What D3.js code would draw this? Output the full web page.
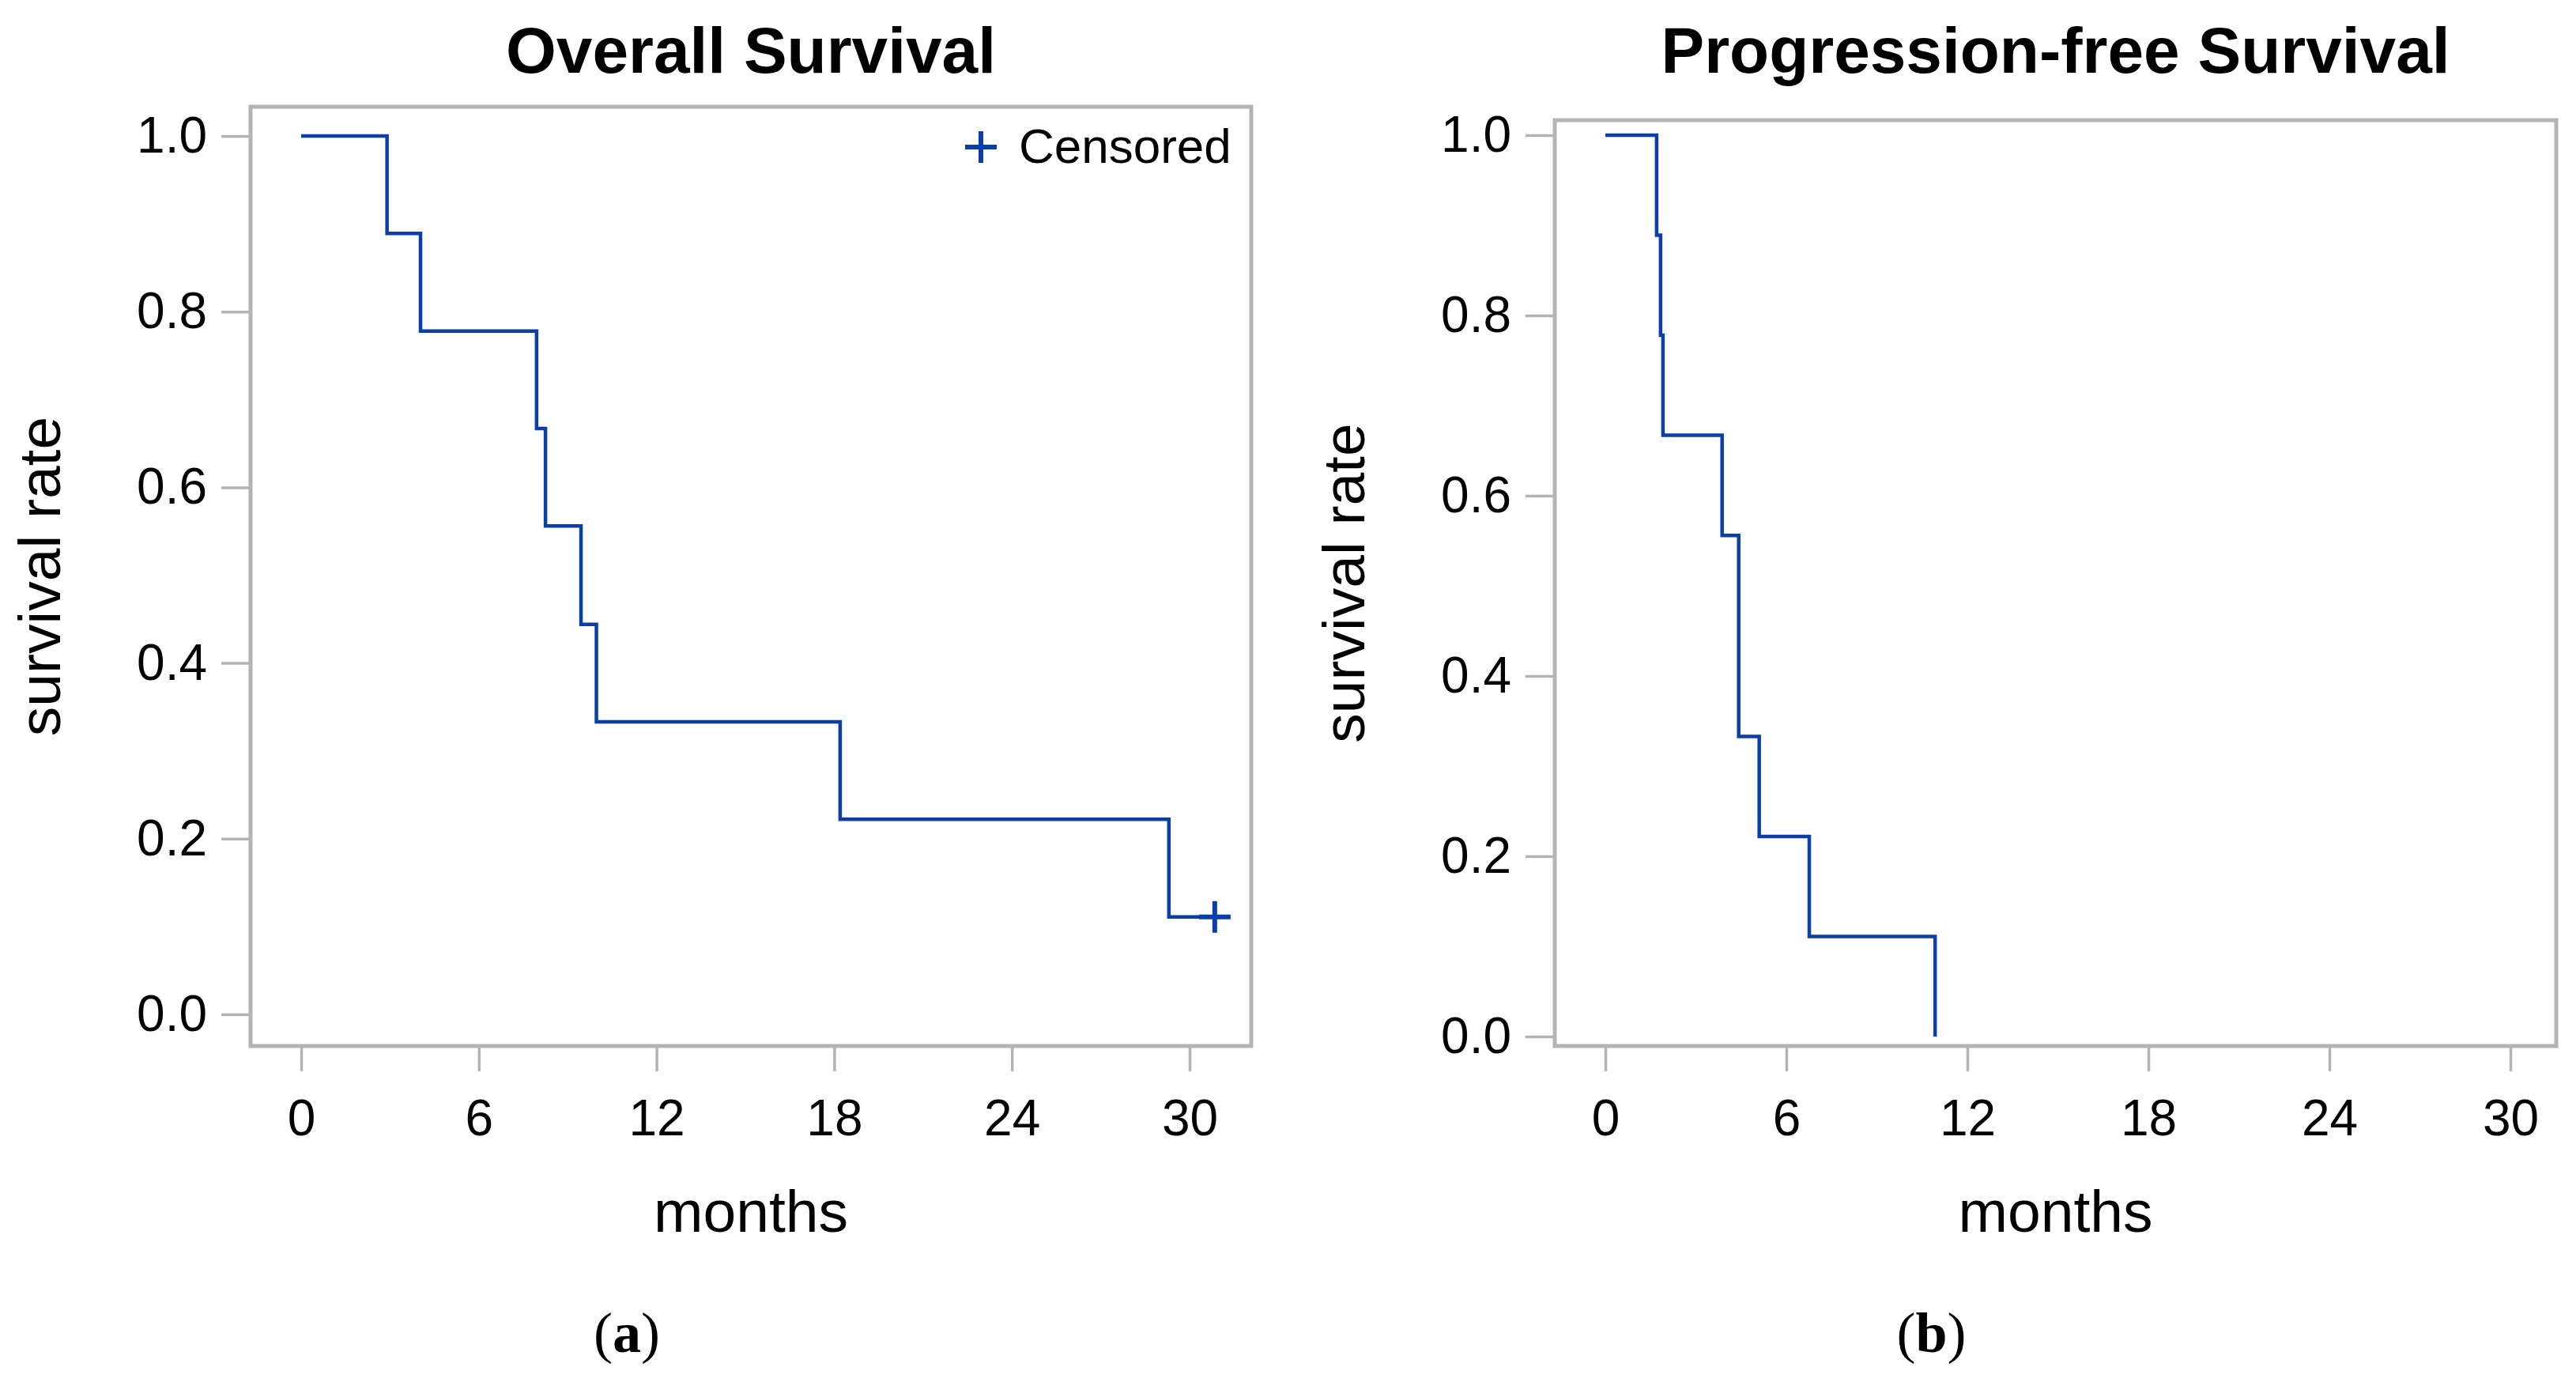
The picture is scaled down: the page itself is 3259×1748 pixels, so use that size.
<!DOCTYPE html>
<html lang="en">
<head>
<meta charset="utf-8">
<title>Overall and progression-free survival</title>
<script src="https://cdn.jsdelivr.net/npm/d3@7"></script>
<style>
  body { margin: 0; background: #fff; }
  svg { display: block; }
  .tick text { font-family: "Liberation Sans", Arial, sans-serif; font-size: 64px; fill: #000; }
  .tick line { stroke: #b4b4b4; stroke-width: 3.5px; }
  .title { font-family: "Liberation Sans", Arial, sans-serif; font-size: 82px; font-weight: bold; }
  .axlabel { font-family: "Liberation Sans", Arial, sans-serif; font-size: 75px; }
  .panel-tag { font-family: "Liberation Serif", "Times New Roman", serif; font-size: 72px; }
</style>
</head>
<body>
<svg id="chart" width="3259" height="1748"></svg>
<script>
// data (months, survival rate)
var xTicks = [0, 6, 12, 18, 24, 30];
var yTicks = [0, 0.2, 0.4, 0.6, 0.8, 1.0];

var osTimes = [2.9, 4.03, 7.95, 8.25, 9.45, 9.97, 18.2, 29.3];
var osSurv  = [0.889, 0.778, 0.667, 0.556, 0.444, 0.333, 0.222, 0.111];
var osCensorTimes = [30.85];
var osCensorSurv  = [0.111];

var pfsTimes = [1.7, 1.83, 1.91, 3.87, 4.42, 5.1, 6.76, 10.93];
var pfsSurv  = [0.889, 0.778, 0.667, 0.556, 0.333, 0.222, 0.111, 0.0];

var blue = "#0b3ea6";
var grey = "#b4b4b4";

var svg = d3.select("#chart");

var panels = [
  { title: "Overall Survival", tag: "a",
    times: osTimes, surv: osSurv, cTimes: osCensorTimes, cSurv: osCensorSurv,
    frame: { l: 317, r: 1583, t: 135, b: 1323 },
    xr: [381, 1505], yr: [1283, 172], legend: true },
  { title: "Progression-free Survival", tag: "b",
    times: pfsTimes, surv: pfsSurv, cTimes: [], cSurv: [],
    frame: { l: 1967, r: 3234, t: 152, b: 1323 },
    xr: [2031, 3176], yr: [1311, 171], legend: false }
];

panels.forEach(function(p) {
  var f = p.frame;
  var cx = (f.l + f.r) / 2;
  var xScale = d3.scaleLinear().domain([0, 30]).range(p.xr);
  var yScale = d3.scaleLinear().domain([0, 1]).range(p.yr);

  // frame
  svg.append("rect")
    .attr("x", f.l).attr("y", f.t)
    .attr("width", f.r - f.l).attr("height", f.b - f.t)
    .attr("fill", "none")
    .attr("stroke", grey)
    .attr("stroke-width", 5);

  // axes
  var yAxis = d3.axisLeft(yScale)
    .tickValues(yTicks)
    .tickFormat(d3.format(".1f"))
    .tickSize(35)
    .tickPadding(18);
  svg.append("g")
    .attr("transform", "translate(" + (f.l - 2) + ",0)")
    .call(yAxis)
    .call(function(g) { g.select(".domain").remove(); });

  var xAxis = d3.axisBottom(xScale)
    .tickValues(xTicks)
    .tickSize(30)
    .tickPadding(36);
  svg.append("g")
    .attr("transform", "translate(0," + (f.b + 2) + ")")
    .call(xAxis)
    .call(function(g) { g.select(".domain").remove(); });

  // step curve
  var pts = [[0, 1]];
  p.times.forEach(function(t, i) { pts.push([t, p.surv[i]]); });
  p.cTimes.forEach(function(t, i) { pts.push([t, p.cSurv[i]]); });

  var line = d3.line()
    .x(function(d) { return xScale(d[0]); })
    .y(function(d) { return yScale(d[1]); })
    .curve(d3.curveStepAfter);

  svg.append("path")
    .datum(pts)
    .attr("d", line)
    .attr("fill", "none")
    .attr("stroke", blue)
    .attr("stroke-width", 4.5);

  // censor marks
  var plus = d3.symbol().type(d3.symbolCross);
  var cen = p.cTimes.map(function(t, i) { return [t, p.cSurv[i]]; });
  svg.selectAll(null)
    .data(cen)
    .enter()
    .append("path")
    .attr("d", "M-20,0H20M0,-20V20")
    .attr("transform", function(d) { return "translate(" + xScale(d[0]) + "," + yScale(d[1]) + ")"; })
    .attr("stroke", blue)
    .attr("stroke-width", 6)
    .attr("fill", "none");

  // legend
  if (p.legend) {
    svg.append("path")
      .attr("d", "M-20,0H20M0,-20V20")
      .attr("transform", "translate(1241,186)")
      .attr("stroke", blue)
      .attr("stroke-width", 6);
    svg.append("text")
      .attr("x", 1289).attr("y", 206)
      .attr("font-family", "Liberation Sans, Arial, sans-serif")
      .attr("font-size", 62)
      .text("Censored");
  }

  // titles and labels
  svg.append("text")
    .attr("class", "title")
    .attr("x", cx).attr("y", 92)
    .attr("text-anchor", "middle")
    .text(p.title);

  svg.append("text")
    .attr("class", "axlabel")
    .attr("x", cx).attr("y", 1558)
    .attr("text-anchor", "middle")
    .text("months");

  var ly = (f.t + f.b) / 2;
  svg.append("text")
    .attr("class", "axlabel")
    .attr("transform", "translate(" + (f.l - 241) + "," + ly + ") rotate(-90)")
    .attr("text-anchor", "middle")
    .text("survival rate");

  var tag = svg.append("text")
    .attr("class", "panel-tag")
    .attr("x", cx - 157).attr("y", 1710)
    .attr("text-anchor", "middle");
  tag.append("tspan").text("(");
  tag.append("tspan").attr("font-weight", "bold").text(p.tag);
  tag.append("tspan").text(")");
});
</script>
</body>
</html>
